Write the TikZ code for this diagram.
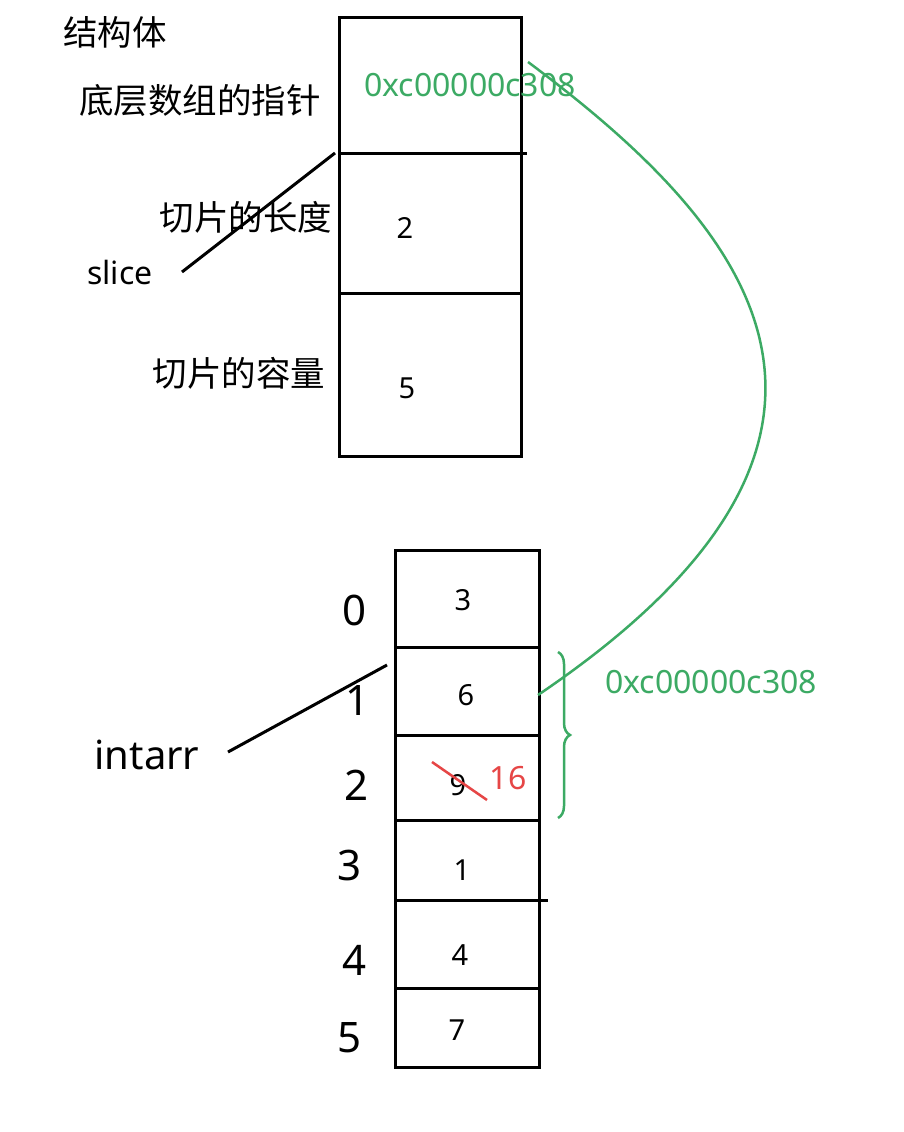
\documentclass[tikz,border=0pt]{standalone}
\usepackage{fontspec}
\setmainfont{Noto Sans}
\newfontfamily\cjk{Noto Sans CJK SC}
\usetikzlibrary{decorations.pathreplacing}
\definecolor{gr}{RGB}{60,170,100}
\definecolor{rd}{RGB}{230,70,70}
\begin{document}
\begin{tikzpicture}[x=1pt,y=-1pt,
  lbl/.style={font=\cjk\fontsize{34.5}{36}\selectfont,inner sep=0},
  val/.style={font=\fontsize{29}{32}\selectfont,inner sep=0},
  gval/.style={text=gr,font=\fontsize{32}{34}\selectfont,inner sep=0},
  idx/.style={font=\fontsize{42}{46}\selectfont,inner sep=0},
  box/.style={draw,line width=3pt},
  ln/.style={line width=3pt}]
\useasboundingbox[fill=white] (0,0) rectangle (904,1132);
% struct
\draw[box] (339,18) rectangle (521,456);
\draw[ln] (339,153) -- (527,153);
\draw[ln] (339,293) -- (521,293);
\node[lbl] (t0) at (115,32) {结构体};
\node[lbl] (t1) at (200,100) {底层数组的指针};
\node[gval] (p1) at (470,85) {0xc00000c308};
\node[lbl] (t2) at (246,217) {切片的长度};
\node[val] (v2) at (405,228) {2};
\node[val,font=\fontsize{32}{34}\selectfont] (sl) at (120,272) {slice};
\coordinate (s1) at (182,272); \coordinate (s2) at (335,153);
\draw[ln] (s1) -- (s2);
\node[lbl] (t3) at (239,373) {切片的容量};
\node[val] (v5) at (407,388) {5};
% array
\draw[box] (395,550) rectangle (539,1067);
\foreach \y in {647,735,820,988} \draw[ln] (395,\y) -- (539,\y);
\draw[ln] (395,900) -- (548,900);
\node[idx] (i0) at (355,610) {0};
\node[idx] (i1) at (358,700) {1};
\node[idx] (i2) at (357,785) {2};
\node[idx] (i3) at (350,865) {3};
\node[idx] (i4) at (355,960) {4};
\node[idx] (i5) at (350,1038) {5};
\node[val] (a0) at (463,600) {3};
\node[val] (a1) at (466,695) {6};
\node[val] (a2) at (458,785) {9};
\coordinate (r1) at (432,762); \coordinate (r2) at (487,800);
\draw[rd,line width=2.5pt] (r1) -- (r2);
\node[val,text=rd,font=\fontsize{32}{34}\selectfont] (a2b) at (508,778) {16};
\node[val] (a3) at (462,870) {1};
\node[val] (a4) at (460,955) {4};
\node[val] (a5) at (457,1030) {7};
\node[idx,font=\fontsize{40}{44}\selectfont] (ia) at (147,755) {intarr};
\coordinate (q1) at (228,752); \coordinate (q2) at (387,665);
\draw[ln] (q1) -- (q2);
% green
\coordinate (b1) at (558,652); \coordinate (b2) at (558,818);
\draw[gr,line width=2.5pt,decorate,decoration={brace,amplitude=12pt}] (b1) -- (b2);
\node[gval] (p2) at (711,682) {0xc00000c308};
\coordinate (c1) at (538,695); \coordinate (c2) at (528,62);
\draw[gr,line width=2.5pt] (c1) .. controls (930,430) and (740,220) .. (c2);
\end{tikzpicture}
\end{document}
